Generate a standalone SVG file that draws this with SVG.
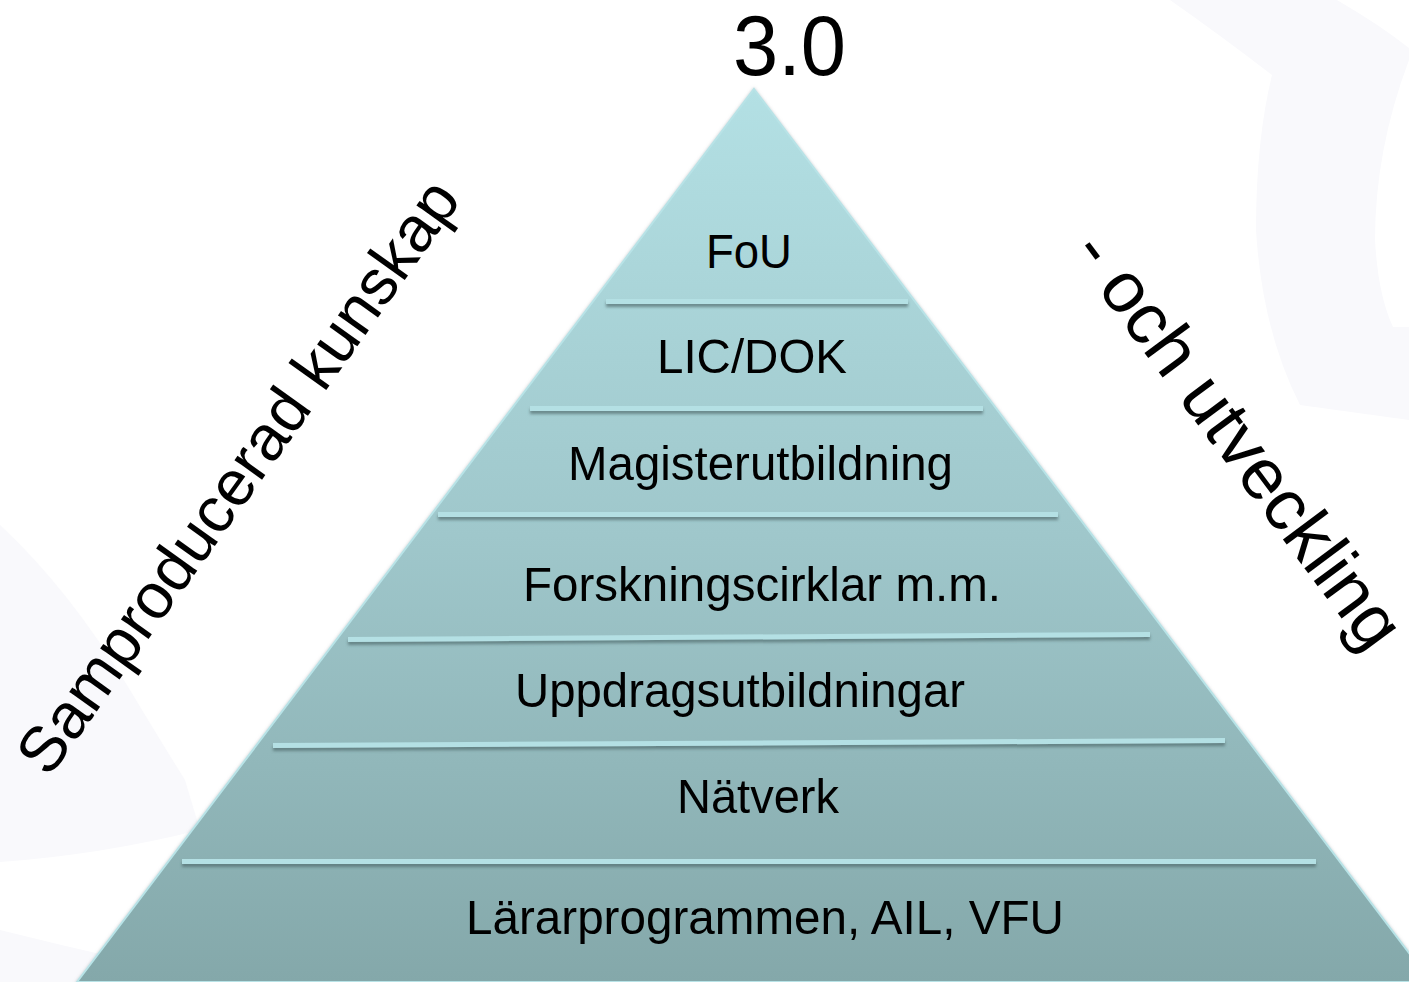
<svg xmlns="http://www.w3.org/2000/svg" width="1409" height="982" viewBox="0 0 1409 982">
<defs>
<linearGradient id="pyr" x1="0" y1="89" x2="0" y2="982" gradientUnits="userSpaceOnUse">
<stop offset="0" stop-color="#b3e0e4"/>
<stop offset="0.5" stop-color="#9fc7cb"/>
<stop offset="1" stop-color="#84a8aa"/>
</linearGradient>
<filter id="edge" x="-5%" y="-5%" width="110%" height="110%">
<feDropShadow dx="0" dy="0" stdDeviation="1.5" flood-color="#8a9aa0" flood-opacity="0.5"/>
</filter>
<filter id="barsh" x="-2%" y="-100%" width="104%" height="400%">
<feDropShadow dx="0" dy="3" stdDeviation="1.5" flood-color="#4f6a6c" flood-opacity="0.7"/>
</filter>
</defs>
<style>
.bg{fill:#f9f9fc}
.bar{fill:#b4e0e4;filter:url(#barsh)}
.lbl{font-family:"Liberation Sans",Arial,sans-serif;font-size:49px;fill:#000}
.side{font-family:"Liberation Sans",Arial,sans-serif;fill:#000}
</style>
<rect width="1409" height="982" fill="#ffffff"/>
<g id="background">
<path class="bg" d="M1170 0 L1337 0 Q1380 25 1409 48 L1409 60 Q1375 150 1375 240 Q1378 295 1393 327 L1409 327 L1409 420 L1300 405 Q1262 330 1256 230 Q1256 140 1272 75 Q1220 35 1170 0 Z"/>
<path class="bg" d="M0 525 Q70 590 130 690 Q160 740 185 780 L200 830 Q100 855 0 862 Z"/>
<path class="bg" d="M0 930 Q120 960 230 982 L0 982 Z"/>
</g>
<g id="pyramid">
<polygon points="754,89 1431,982 77,982" fill="url(#pyr)" stroke="#b8e3e7" stroke-width="2" filter="url(#edge)"/>
</g>
<g id="connectors">
<polygon class="bar" points="606,299 908,299 908,304 606,304"/>
<polygon class="bar" points="530,406 983,406 983,411 530,411"/>
<polygon class="bar" points="438,512 1058,512 1058,517 438,517"/>
<polygon class="bar" points="348,637 1150,632 1150,637 348,642"/>
<polygon class="bar" points="273,743 1225,738 1225,743 273,748"/>
<polygon class="bar" points="182,859 1316,859 1316,864 182,864"/>
</g>
<g id="title"><text class="lbl" x="733" y="75" style="font-size:85px" textLength="113" lengthAdjust="spacingAndGlyphs">3.0</text></g>
<g id="n-fou"><text class="lbl" x="706" y="268" textLength="86" lengthAdjust="spacingAndGlyphs">FoU</text></g>
<g id="n-licdok"><text class="lbl" x="657" y="373" textLength="190" lengthAdjust="spacingAndGlyphs">LIC/DOK</text></g>
<g id="n-magister"><text class="lbl" x="568" y="480" textLength="385" lengthAdjust="spacingAndGlyphs">Magisterutbildning</text></g>
<g id="n-forskning"><text class="lbl" x="523" y="601" textLength="478" lengthAdjust="spacingAndGlyphs">Forskningscirklar m.m.</text></g>
<g id="n-uppdrag"><text class="lbl" x="515" y="707" textLength="450" lengthAdjust="spacingAndGlyphs">Uppdragsutbildningar</text></g>
<g id="n-natverk"><text class="lbl" x="677" y="813" textLength="162" lengthAdjust="spacingAndGlyphs">Nätverk</text></g>
<g id="n-lararprog"><text class="lbl" x="466" y="934" textLength="598" lengthAdjust="spacingAndGlyphs">Lärarprogrammen, AIL, VFU</text></g>
<g id="side-left"><text class="side" style="font-size:64px" transform="translate(240,478) rotate(-54.5)" x="0" y="19" text-anchor="middle">Samproducerad kunskap</text></g>
<g id="side-right"><text class="side" style="font-size:72px" transform="translate(1236,441) rotate(53.4)" x="0" y="21" text-anchor="middle">- och utveckling</text></g>
</svg>
